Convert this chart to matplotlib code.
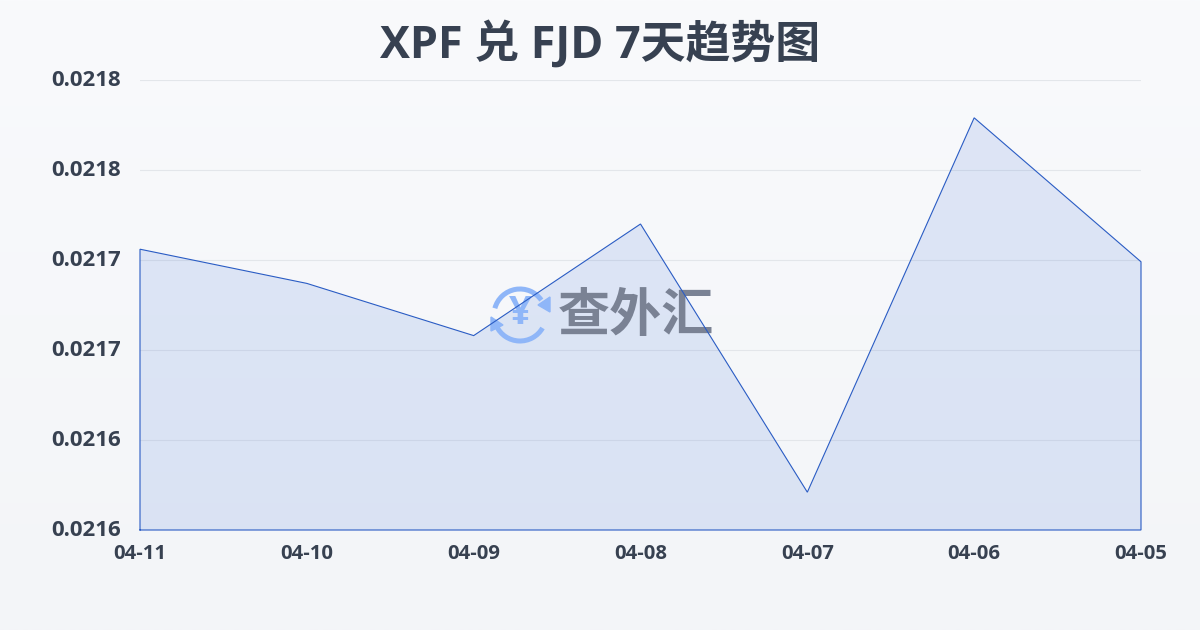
import numpy as np
import matplotlib
matplotlib.use("Agg")
import matplotlib.pyplot as plt
from matplotlib.patches import Arc, Polygon
from matplotlib.colors import LinearSegmentedColormap
from matplotlib.transforms import ScaledTranslation

plt.rcParams['font.family'] = ['Open Sans', 'Noto Sans CJK SC', 'DejaVu Sans']

dates = ["04-11", "04-10", "04-09", "04-08", "04-07", "04-06", "04-05"]
rates = [0.021706, 0.021687, 0.021658, 0.021720, 0.021571, 0.021779, 0.021699]
y_ticks = [0.02155, 0.02160, 0.02165, 0.02170, 0.02175, 0.02180]
y_labels = ["0.0216", "0.0216", "0.0217", "0.0217", "0.0218", "0.0218"]
title = "XPF 兑 FJD 7天趋势图"

W, H = 1200, 630
TEXT = "#374151"

fig = plt.figure(figsize=(W / 100, H / 100), dpi=100)

# page background, light vertical gradient
bg = fig.add_axes([0, 0, 1, 1], zorder=0)
cmap = LinearSegmentedColormap.from_list("page", ["#f9fafc", "#f3f5f8"])
bg.imshow(np.linspace(0, 1, 256).reshape(-1, 1), cmap=cmap, aspect="auto", extent=[0, W, H, 0])
bg.set_xlim(0, W)
bg.set_ylim(H, 0)
bg.axis("off")

ax = fig.add_axes([140 / W, 1 - 530 / H, 1001 / W, 450 / H], zorder=1)
ax.patch.set_alpha(0)

x = np.arange(len(dates))
ax.fill_between(x, rates, y_ticks[0], facecolor=(0.29, 0.47, 0.85, 0.15), edgecolor="none", zorder=2)
ax.plot([0] + list(x) + [x[-1], 0], [y_ticks[0]] + rates + [y_ticks[0], y_ticks[0]],
        color="#2a5cc4", lw=0.8, zorder=4, solid_joinstyle="miter", clip_on=False)

# watermark sits between the fill and the line, in page pixels
px = bg.transData
cx, cy, r = 520, 315, 26
logo = "#8fb6f8"
ax.add_patch(Arc((cx, cy), 2 * r, 2 * r, theta1=195, theta2=325, color=logo, lw=3.6,
                 transform=px, zorder=3, clip_on=False))
ax.add_patch(Arc((cx, cy), 2 * r, 2 * r, theta1=30, theta2=155, color=logo, lw=3.6,
                 transform=px, zorder=3, clip_on=False))
ax.add_patch(Polygon([[550, 297], [550, 312], [538, 305]], color=logo, transform=px, zorder=3, clip_on=False))
ax.add_patch(Polygon([[491, 317], [491, 331], [503, 325]], color=logo, transform=px, zorder=3, clip_on=False))
ax.text(cx, cy - 1, "¥", fontsize=29, fontweight="bold", color=logo, ha="center", va="center",
        transform=px, zorder=3)
ax.text(636, 317, "查外汇", fontsize=37.5, fontweight="bold", color="#7a8294", ha="center", va="center",
        transform=px, zorder=3)

ax.set_xlim(0, len(dates) - 1)
ax.set_ylim(y_ticks[0], y_ticks[-1])
ax.set_xticks(x)
ax.set_xticklabels(dates, fontsize=14.6, fontweight="bold", color=TEXT)
ax.set_yticks(y_ticks)
ax.set_yticklabels(y_labels, fontsize=16, fontweight="bold", color=TEXT)
ax.tick_params(axis="both", length=0)
ax.tick_params(axis="x", pad=10)
ax.tick_params(axis="y", pad=14)
# y labels sit a little above their gridlines
up = ScaledTranslation(0, 2 / 100, fig.dpi_scale_trans)
for lab in ax.get_yticklabels():
    lab.set_transform(lab.get_transform() + up)
ax.grid(axis="y", color="#e3e6ea", lw=0.8, zorder=1)
ax.set_axisbelow(True)
for s in ax.spines.values():
    s.set_visible(False)

fig.text(600 / W, 1 - 45 / H, title, fontsize=32.3, fontweight="bold", color=TEXT, ha="center", va="center")

fig.savefig("out.png", dpi=100)
